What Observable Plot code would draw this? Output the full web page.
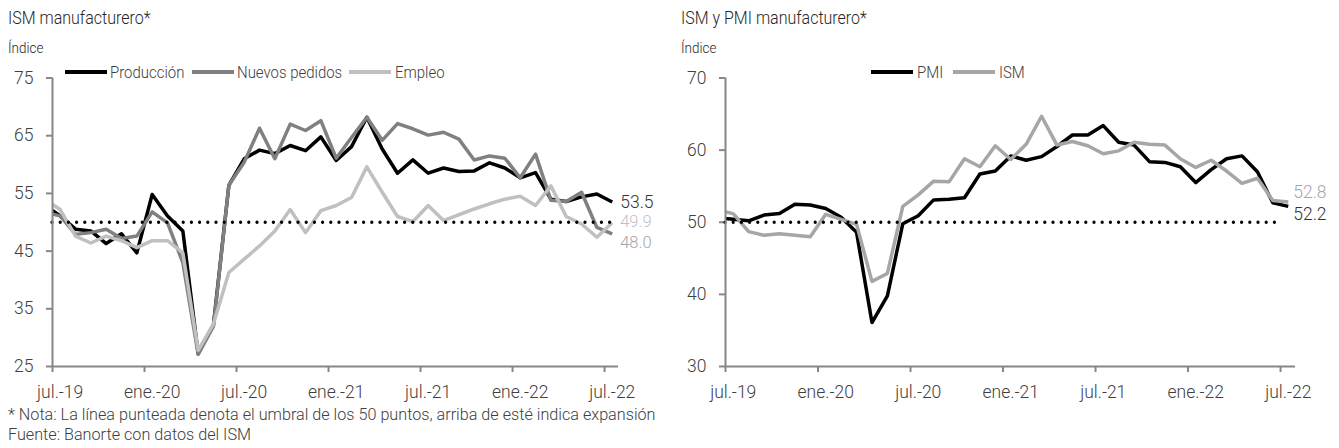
<!DOCTYPE html>
<html><head><meta charset="utf-8">
<script src="https://cdn.jsdelivr.net/npm/d3@7"></script>
<script src="https://cdn.jsdelivr.net/npm/@observablehq/plot@0.6"></script>
<style>
body{margin:0;background:#fff;}
#root{position:relative;width:1339px;height:448px;overflow:hidden;font-family:Roboto,"Liberation Sans",Arial,sans-serif;font-weight:300;color:#262626;}
.t{position:absolute;white-space:nowrap;line-height:1;transform-origin:0 0;}
.sw{position:absolute;height:3.5px;width:42px;}
#root svg{position:absolute;top:60px;overflow:visible;}
#root svg text{font-weight:300;}
</style></head>
<body><div id="root"></div>
<script>
// ---------- data ----------
const months = ["jun.-19","jul.-19","ago.-19","sep.-19","oct.-19","nov.-19","dic.-19",
  "ene.-20","feb.-20","mar.-20","abr.-20","may.-20","jun.-20","jul.-20","ago.-20","sep.-20","oct.-20","nov.-20","dic.-20",
  "ene.-21","feb.-21","mar.-21","abr.-21","may.-21","jun.-21","jul.-21","ago.-21","sep.-21","oct.-21","nov.-21","dic.-21",
  "ene.-22","feb.-22","mar.-22","abr.-22","may.-22","jun.-22","jul.-22"];
const produccion = [53.0,51.1,48.8,48.5,46.3,48.0,44.7,54.8,51.1,48.5,27.2,32.3,56.4,61.0,62.5,61.9,63.3,62.4,64.8,
  60.7,63.1,68.2,62.7,58.5,60.8,58.5,59.4,58.8,58.9,60.3,59.4,57.7,58.6,54.0,53.6,54.4,54.9,53.5];
const nuevosPedidos = [51.7,51.1,47.9,48.2,48.8,47.2,47.6,51.8,49.9,43.0,27.1,32.0,56.4,60.4,66.3,61.0,67.0,65.9,67.6,
  61.1,64.7,68.2,64.2,67.1,66.2,65.1,65.6,64.4,60.8,61.5,61.1,57.7,61.8,53.8,53.6,55.2,49.1,48.0];
const empleo = [54.0,52.2,47.6,46.4,47.6,46.8,45.6,46.8,46.8,44.7,27.8,32.4,41.3,43.6,45.9,48.5,52.2,48.2,52.0,
  52.9,54.3,59.6,55.2,51.0,50.1,52.9,50.3,51.3,52.3,53.2,54.0,54.5,52.9,56.3,51.0,49.7,47.4,49.9];
const pmi = [50.6,50.4,50.2,51.0,51.2,52.5,52.4,51.9,50.7,48.6,36.1,39.8,49.8,50.9,53.1,53.2,53.4,56.7,57.1,
  59.2,58.6,59.1,60.5,62.1,62.1,63.4,61.1,60.7,58.4,58.3,57.7,55.5,57.3,58.8,59.2,57.0,52.7,52.2];
const ism = [51.7,51.2,48.7,48.2,48.4,48.2,48.0,51.1,50.4,49.7,41.8,42.9,52.2,53.8,55.7,55.6,58.8,57.7,60.6,
  58.7,60.8,64.7,60.7,61.2,60.6,59.5,59.9,61.1,60.8,60.7,58.8,57.6,58.6,57.1,55.4,56.1,53.0,52.8];
const xTickLabels = ["jul.-19","ene.-20","jul.-20","ene.-21","jul.-21","ene.-22","jul.-22"];
const yTicksLeft = [25,35,45,55,65,75];
const yTicksRight = [30,40,50,60,70];
const umbral = 50;

// ---------- helpers ----------
const AX = "#878787", TXT = "#404040", FONT = 'Roboto,"Liberation Sans",Arial,sans-serif';
const rows = months.map((m, i) => ({month: m, pos: i - 0.5, produccion: produccion[i], nuevosPedidos: nuevosPedidos[i], empleo: empleo[i], pmi: pmi[i], ism: ism[i]}));
const last = rows[rows.length - 1];
const tickPos = xTickLabels.map(l => months.indexOf(l) - 1);
const labelPos = xTickLabels.map(l => months.indexOf(l) - 0.5);
const labelFor = d => xTickLabels[labelPos.indexOf(d)];

function chart({xEnd, yDomain, yTicks, marginLeft, marginRight, series, labels, ruleEnd}) {
  return Plot.plot({
    width: 669, height: 340,
    marginTop: 17.5, marginBottom: 34, marginLeft, marginRight,
    x: {domain: [0, xEnd], axis: null, label: null},
    y: {domain: yDomain, axis: null, label: null},
    style: {fontFamily: FONT, fontSize: "17px", color: TXT, background: "transparent"},
    marks: [
      Plot.axisY(yTicks, {anchor: "left", tickSize: 6, tickPadding: 13, stroke: AX, strokeWidth: 2, fill: TXT, fontSize: 17.5, tickFormat: d => String(d), label: null}),
      Plot.axisX(tickPos, {anchor: "bottom", tickSize: 6, stroke: AX, strokeWidth: 2, tickFormat: () => "", label: null}),
      Plot.axisX(labelPos, {anchor: "bottom", tickSize: 0, tickPadding: 19, fill: TXT, fontSize: 17.5, tickFormat: labelFor, label: null}),
      ...series.map(s => Plot.line(rows, {x: "pos", y: s.key, stroke: s.color, strokeWidth: 3.5, strokeLinejoin: "round", strokeLinecap: "butt", clip: true})),
      Plot.ruleY([umbral], {x1: 0, x2: ruleEnd, stroke: "#000", strokeWidth: 3.3, strokeDasharray: "0 8.2", strokeLinecap: "round"}),
      Plot.ruleX([0], {stroke: AX, strokeWidth: 2}),
      Plot.ruleY([yDomain[0]], {stroke: AX, strokeWidth: 2}),
      ...labels.map(l => Plot.text([last], {x: "pos", y: l.key, text: d => d[l.key].toFixed(1), dx: l.dx, dy: l.dy, textAnchor: "start", fill: l.color, fontSize: l.size || 17.5}))
    ]
  });
}

const root = document.getElementById("root");
function addText(txt, left, baseline, size, color, condense = 0.88) {
  const d = document.createElement("div");
  d.className = "t"; d.textContent = txt;
  d.style.left = left + "px"; d.style.top = (baseline - 0.8415 * size) + "px";
  d.style.fontSize = size + "px"; d.style.color = color || "#262626";
  if (condense !== 1) d.style.transform = `scaleX(${condense})`;
  root.appendChild(d);
}
function addSwatch(left, top, color) {
  const d = document.createElement("div");
  d.className = "sw"; d.style.left = left + "px"; d.style.top = top + "px"; d.style.background = color;
  root.appendChild(d);
}

// ---------- left chart ----------
const left = chart({
  xEnd: 36.91, yDomain: [25, 75], yTicks: yTicksLeft, marginLeft: 52, marginRight: 51, ruleEnd: 36.5,
  series: [
    {key: "produccion", color: "#000000"},
    {key: "nuevosPedidos", color: "#808080"},
    {key: "empleo", color: "#c0c0c0"}
  ],
  labels: [
    {key: "produccion", color: "#333333", dx: 8, dy: 0},
    {key: "empleo", color: "#bfbfbf", dx: 8, dy: -1.5, size: 16.5},
    {key: "nuevosPedidos", color: "#a6a6a6", dx: 8, dy: 8.5, size: 16.5}
  ]
});
left.style.left = "0px";
root.appendChild(left);

// ---------- right chart ----------
const right = chart({
  xEnd: 36.97, yDomain: [30, 70], yTicks: yTicksRight, marginLeft: 55, marginRight: 44, ruleEnd: 36,
  series: [
    {key: "pmi", color: "#000000"},
    {key: "ism", color: "#a6a6a6"}
  ],
  labels: [
    {key: "ism", color: "#a6a6a6", dx: 5, dy: -10},
    {key: "pmi", color: "#333333", dx: 5, dy: 8}
  ]
});
right.style.left = "670px";
root.appendChild(right);

// ---------- titles, legends, notes ----------
addText("ISM manufacturero*", 8, 24.5, 18.2);
addText("Índice", 8, 53.5, 15.3);
addText("ISM y PMI manufacturero*", 681, 24.5, 18.2);
addText("Índice", 681, 53.5, 15.3);

addSwatch(65, 70.2, "#000000"); addText("Producción", 110, 78.5, 17, TXT);
addSwatch(192, 70.2, "#808080"); addText("Nuevos pedidos", 237, 78.5, 17, TXT);
addSwatch(349, 70.2, "#c0c0c0"); addText("Empleo", 395, 78.5, 17, TXT);
addSwatch(871, 70.2, "#000000"); addText("PMI", 917, 78.5, 17, TXT);
addSwatch(953, 70.2, "#a6a6a6"); addText("ISM", 999, 78.5, 17, TXT);

addText("* Nota: La línea punteada denota el umbral de los 50 puntos, arriba de esté indica expansión", 8, 421, 16.2, TXT, 1);
addText("Fuente: Banorte con datos del ISM", 8, 440.5, 16.2, TXT, 1);
</script>
</body></html>
